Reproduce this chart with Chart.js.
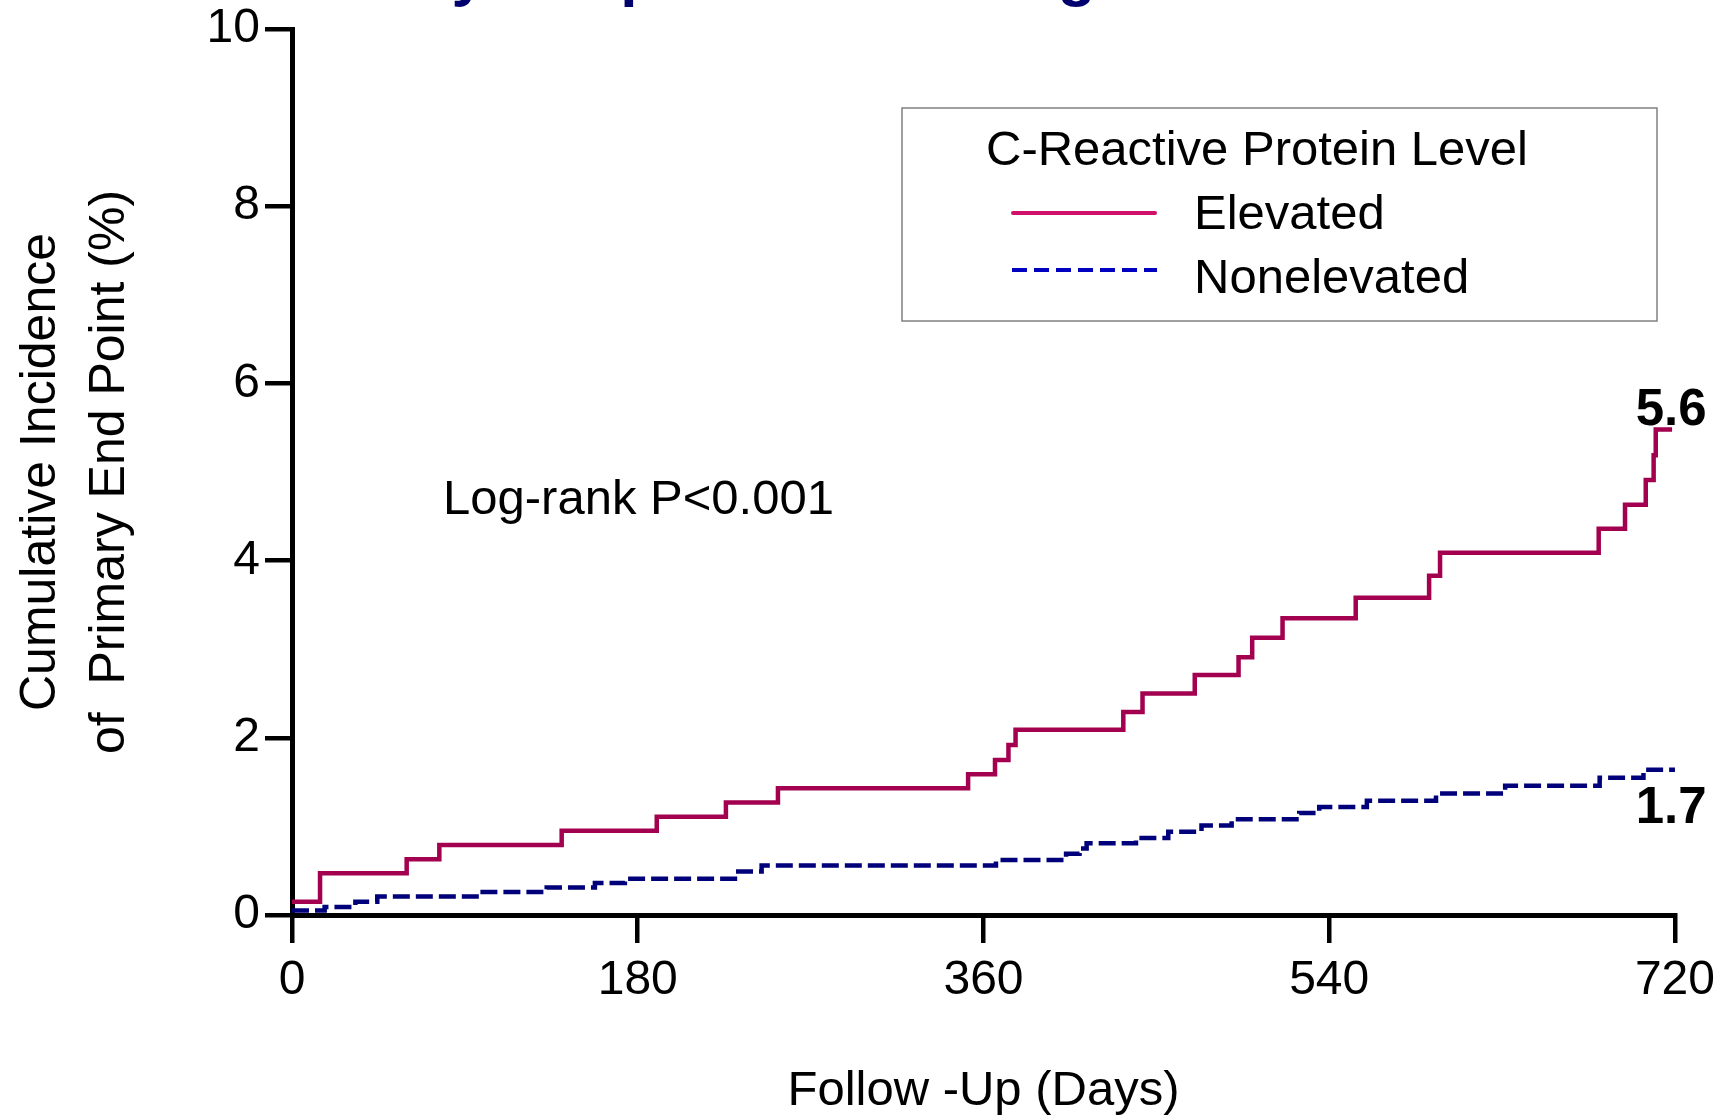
<!DOCTYPE html>
<html>
<head>
<meta charset="utf-8">
<title>Cumulative Incidence of Primary End Point by C-Reactive Protein Level</title>
<script src="https://cdn.jsdelivr.net/npm/chart.js@4.4.1/dist/chart.umd.min.js"></script>
<style>
    html, body { margin: 0; padding: 0; background: #ffffff; }
    #chartWrap { width: 1729px; height: 1119px; }
</style>
</head>
<body>
<div id="chartWrap"><canvas id="kmChart" width="1729" height="1119"></canvas></div>
<script>
/*
 * Dados (dias de seguimento x incidencia acumulada %)
 * */
var elevatedDays = [0, 14.6, 59.7, 76.7, 140.4, 189.9, 225.9, 253, 352, 366, 373, 376.7, 432.8, 442.8, 470, 492.8, 499.9, 515.7, 553.8, 592, 597.7, 680.3, 694, 704.8, 708.9, 710, 718.5];
var elevatedValues = [0.15, 0.47, 0.63, 0.79, 0.95, 1.11, 1.27, 1.43, 1.59, 1.75, 1.92, 2.09, 2.29, 2.50, 2.71, 2.91, 3.13, 3.35, 3.58, 3.83, 4.09, 4.36, 4.63, 4.91, 5.19, 5.48, 5.48];

var nonelevatedDays = [0, 17, 33, 44.4, 97.5, 132.6, 157.7, 173.3, 230.6, 244.5, 366.5, 403, 410, 413.7, 439.4, 456.2, 473.5, 489.2, 524.4, 534.8, 559.6, 595.6, 631.6, 680.8, 703.6, 720];
var nonelevatedValues = [0.05, 0.09, 0.15, 0.21, 0.26, 0.31, 0.36, 0.41, 0.49, 0.56, 0.62, 0.69, 0.75, 0.81, 0.87, 0.94, 1.01, 1.08, 1.15, 1.22, 1.29, 1.37, 1.46, 1.55, 1.64, 1.64];

var seriesNames = ['Elevated', 'Nonelevated'];
var endLabels = ['5.6', '1.7'];
var xTicks = [0, 180, 360, 540, 720];
var yTicks = [0, 2, 4, 6, 8, 10];

var legendTitle = 'C-Reactive Protein Level';
var pValueText = 'Log-rank P<0.001';
var slideTitle = 'Primary Endpoint According to CRP Level';

var FONT = '"Liberation Sans", Arial, Helvetica, sans-serif';

function toPoints(days, values){
    var pts = [];
    for (var i = 0; i < days.length; i++) {
        pts.push({x: days[i], y: values[i]});
    }
    return pts;
}

function drawText(ctx, text, x, y, size, weight, color, align){
    ctx.save();
    ctx.font = weight + ' ' + size + 'px ' + FONT;
    ctx.fillStyle = color;
    ctx.textAlign = align || 'left';
    ctx.textBaseline = 'alphabetic';
    ctx.fillText(text, x, y);
    ctx.restore();
}

/*
 * Legenda, textos e titulo cortado no topo
 * */
var annotationsPlugin = {
    id: 'annotations',
    afterDraw: function(chart){
        var ctx = chart.ctx;
        var xs = chart.scales.x;
        var ys = chart.scales.y;

        // titulo do slide, so as descendentes aparecem
        drawText(ctx, slideTitle, 255, -6, 62, 'bold', '#00006e', 'left');

        // caixa da legenda
        ctx.save();
        ctx.strokeStyle = '#808080';
        ctx.lineWidth = 1.5;
        ctx.strokeRect(902, 108, 755, 213);

        ctx.lineWidth = 4;
        ctx.lineCap = 'round';
        ctx.strokeStyle = '#d0106a';
        ctx.beginPath();
        ctx.moveTo(1013, 213);
        ctx.lineTo(1155, 213);
        ctx.stroke();

        ctx.strokeStyle = '#0000c0';
        ctx.lineCap = 'butt';
        ctx.setLineDash([15, 7]);
        ctx.beginPath();
        ctx.moveTo(1012, 270);
        ctx.lineTo(1157, 270);
        ctx.stroke();
        ctx.restore();

        drawText(ctx, legendTitle, 986, 165, 49, 'normal', '#000', 'left');
        drawText(ctx, seriesNames[0], 1194, 229, 49, 'normal', '#000', 'left');
        drawText(ctx, seriesNames[1], 1194, 293, 49, 'normal', '#000', 'left');

        drawText(ctx, pValueText, 443, 514, 49, 'normal', '#000', 'left');

        // valores finais
        var lastE = elevatedValues[elevatedValues.length - 1];
        var lastN = nonelevatedValues[nonelevatedValues.length - 1];
        drawText(ctx, endLabels[0], xs.getPixelForValue(718), ys.getPixelForValue(lastE) - 4, 51, 'bold', '#000', 'center');
        drawText(ctx, endLabels[1], xs.getPixelForValue(718), ys.getPixelForValue(lastN) + 53, 51, 'bold', '#000', 'center');
    }
};

function loadChart(){
    var canvas = document.getElementById('kmChart');
    var ctx = canvas.getContext('2d');

    var chart = new Chart(ctx, {
        type: 'line',
        data: {
            datasets: [
                {
                    label: seriesNames[1],
                    data: toPoints(nonelevatedDays, nonelevatedValues),
                    borderColor: '#00007a',
                    borderWidth: 4.5,
                    borderDash: [17, 6],
                    stepped: true,
                    pointRadius: 0,
                    fill: false
                },
                {
                    label: seriesNames[0],
                    data: toPoints(elevatedDays, elevatedValues),
                    borderColor: '#a3004f',
                    borderWidth: 4.5,
                    stepped: true,
                    pointRadius: 0,
                    fill: false
                }
            ]
        },
        options: {
            responsive: false,
            animation: false,
            devicePixelRatio: 1,
            layout: { padding: { top: 28, right: 54, bottom: 0, left: 0 } },
            plugins: {
                legend: { display: false },
                tooltip: { enabled: false }
            },
            scales: {
                x: {
                    type: 'linear',
                    min: 0,
                    max: 720,
                    afterBuildTicks: function(scale){
                        scale.ticks = xTicks.map(function(v){ return {value: v}; });
                    },
                    afterFit: function(scale){ scale.height = 204; },
                    border: { display: true, color: '#000', width: 5 },
                    grid: { drawOnChartArea: false, color: '#000', lineWidth: 4.5, tickLength: 28 },
                    ticks: {
                        autoSkip: false,
                        maxRotation: 0,
                        padding: 14,
                        color: '#000',
                        font: { family: FONT, size: 48, lineHeight: 1 }
                    },
                    title: {
                        display: true,
                        text: 'Follow -Up (Days)',
                        color: '#000',
                        font: { family: FONT, size: 49, lineHeight: 1 },
                        padding: { top: 0, bottom: 3 }
                    }
                },
                y: {
                    type: 'linear',
                    min: 0,
                    max: 10,
                    afterBuildTicks: function(scale){
                        scale.ticks = yTicks.map(function(v){ return {value: v}; });
                    },
                    afterFit: function(scale){ scale.width = 292; },
                    border: { display: true, color: '#000', width: 5 },
                    grid: { drawOnChartArea: false, color: '#000', lineWidth: 4.5, tickLength: 27 },
                    ticks: {
                        padding: 5,
                        color: '#000',
                        font: { family: FONT, size: 48, lineHeight: 1 }
                    },
                    title: {
                        display: true,
                        text: ['Cumulative Incidence', 'of  Primary End Point (%)'],
                        color: '#000',
                        font: { family: FONT, size: 50, lineHeight: 1.38 },
                        padding: { top: 6.5, bottom: 0 }
                    }
                }
            }
        },
        plugins: [annotationsPlugin]
    });

    return chart;
}

loadChart();
</script>
</body>
</html>
